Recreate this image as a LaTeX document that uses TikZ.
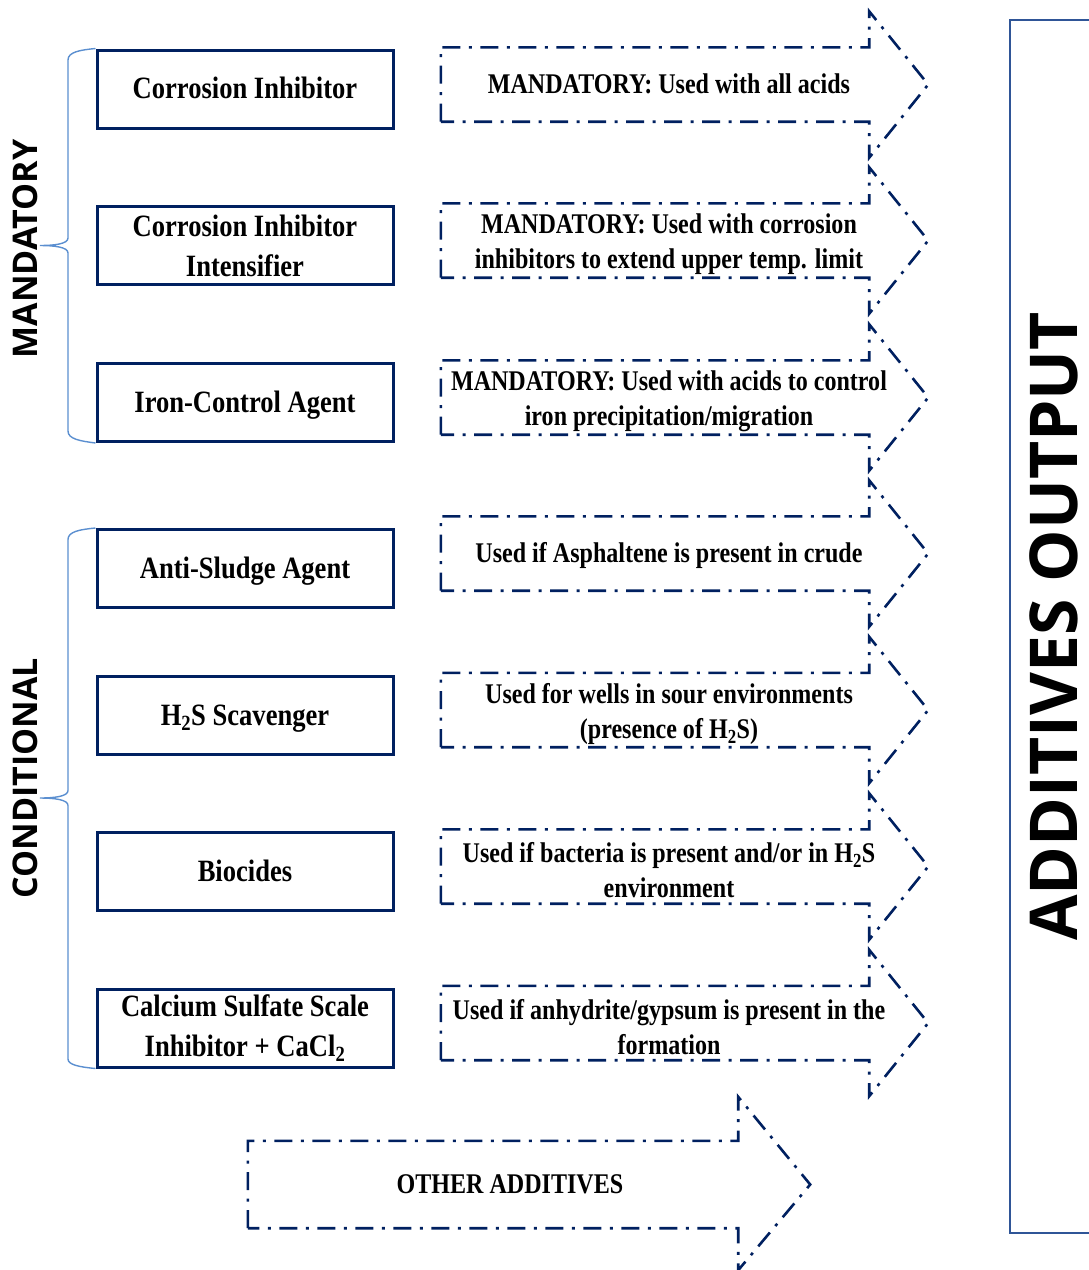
\documentclass[tikz,border=0pt]{standalone}
\usepackage{tikz}
\usepackage{fontspec}
\setmainfont{Liberation Serif}
\newfontfamily\boxserif[FakeStretch=0.857]{Liberation Serif}
\newfontfamily\narrowserif[FakeStretch=0.844]{Liberation Serif}
\newfontfamily\sidesans{Open Sans}

\definecolor{navy}{RGB}{0,32,96}
\definecolor{bracecol}{RGB}{91,143,208}
\definecolor{outcol}{RGB}{47,85,151}

\begin{document}
\begin{tikzpicture}[x=1pt, y=-1pt,
    box/.style={draw=navy, line width=3pt, minimum width=296pt, minimum height=78pt, inner sep=0pt, align=center, font=\boxserif\bfseries\fontsize{31}{40}\selectfont},
    boxline/.style={text height=21pt, text depth=2pt},
    body/.style={minimum width=428pt, minimum height=74pt, inner sep=0pt},
    note/.style={inner sep=0pt, align=center, font=\narrowserif\bfseries\fontsize{28.5}{35}\selectfont},
    noteline/.style={text height=19pt, text depth=2pt},
    twolines/.style={yshift=-4pt},
    dashdot/.style={draw=navy, line width=2.6pt, dash pattern=on 18pt off 8.5pt on 3pt off 8.5pt},
    brace/.style={draw=bracecol, line width=1.4pt},
    side/.style={rotate=90, inner sep=0pt, font=\sidesans\bfseries\fontsize{34}{40}\selectfont}]
    \useasboundingbox (0,0) rectangle (1089,1270);

    % additive boxes
    \node[box, boxline] (ci) at (245,89) {Corrosion Inhibitor};
    \node[box] (cii) at (245,245.5) {Corrosion Inhibitor\\Intensifier};
    \node[box, boxline] (ica) at (245,402.5) {Iron-Control Agent};
    \node[box, boxline] (asa) at (245,568.5) {Anti-Sludge Agent};
    \node[box, boxline] (hss) at (245,715.5) {H\textsubscript{2}S Scavenger};
    \node[box, boxline] (bio) at (245,871.5) {Biocides};
    \node[box] (css) at (245,1028) {Calcium Sulfate Scale\\Inhibitor + CaCl\textsubscript{2}};

    % group labels
    \node[side] (mand) at (25,249) {MANDATORY};
    \node[side] (cond) at (25,778) {CONDITIONAL};
    \coordinate (mtip) at (40,245.5);
    \coordinate (ctip) at (40,798);
    \draw[brace] (ci.north west) .. controls (80,50) and (68,52) .. (68,60) -- (68,238) .. controls (68,244) and (54,245.5) .. (mtip) .. controls (54,245.5) and (68,247) .. (68,253) -- (68,431) .. controls (68,439) and (80,441) .. (ica.south west);
    \draw[brace] (asa.north west) .. controls (80,529.5) and (68,531.5) .. (68,539.5) -- (68,790.5) .. controls (68,796.5) and (54,798) .. (ctip) .. controls (54,798) and (68,799.5) .. (68,805.5) -- (68,1059) .. controls (68,1065) and (80,1067) .. (css.south west);

    % usage arrows
    \node[body] (b1) at (655,84.5) {};
    \node[body] (b2) at (655,240.5) {};
    \node[body] (b3) at (655,397.5) {};
    \node[body] (b4) at (655,553.5) {};
    \node[body] (b5) at (655,710) {};
    \node[body] (b6) at (655,866.5) {};
    \node[body] (b7) at (655,1023) {};
    \draw[dashdot] (b1.south west) -- (b1.north west) -- (b1.north east) -- ([yshift=36pt]b1.north east) -- ([xshift=59pt]b1.east) -- ([yshift=-36pt]b1.south east) -- (b1.south east) -- cycle;
    \draw[dashdot] (b2.south west) -- (b2.north west) -- (b2.north east) -- ([yshift=36pt]b2.north east) -- ([xshift=59pt]b2.east) -- ([yshift=-36pt]b2.south east) -- (b2.south east) -- cycle;
    \draw[dashdot] (b3.south west) -- (b3.north west) -- (b3.north east) -- ([yshift=36pt]b3.north east) -- ([xshift=59pt]b3.east) -- ([yshift=-36pt]b3.south east) -- (b3.south east) -- cycle;
    \draw[dashdot] (b4.south west) -- (b4.north west) -- (b4.north east) -- ([yshift=36pt]b4.north east) -- ([xshift=59pt]b4.east) -- ([yshift=-36pt]b4.south east) -- (b4.south east) -- cycle;
    \draw[dashdot] (b5.south west) -- (b5.north west) -- (b5.north east) -- ([yshift=36pt]b5.north east) -- ([xshift=59pt]b5.east) -- ([yshift=-36pt]b5.south east) -- (b5.south east) -- cycle;
    \draw[dashdot] (b6.south west) -- (b6.north west) -- (b6.north east) -- ([yshift=36pt]b6.north east) -- ([xshift=59pt]b6.east) -- ([yshift=-36pt]b6.south east) -- (b6.south east) -- cycle;
    \draw[dashdot] (b7.south west) -- (b7.north west) -- (b7.north east) -- ([yshift=36pt]b7.north east) -- ([xshift=59pt]b7.east) -- ([yshift=-36pt]b7.south east) -- (b7.south east) -- cycle;

    \node[note, noteline] (u1) at ([xshift=14pt]b1.center) {MANDATORY: Used with all acids};
    \node[note, twolines] (u2) at ([xshift=14pt]b2.center) {MANDATORY: Used with corrosion\\inhibitors to extend upper temp. limit};
    \node[note, twolines] (u3) at ([xshift=14pt]b3.center) {MANDATORY: Used with acids to control\\iron precipitation/migration};
    \node[note, noteline] (u4) at ([xshift=14pt]b4.center) {Used if Asphaltene is present in crude};
    \node[note, twolines] (u5) at ([xshift=14pt]b5.center) {Used for wells in sour environments\\(presence of H\textsubscript{2}S)};
    \node[note, twolines] (u6) at ([xshift=14pt]b6.center) {Used if bacteria is present and/or in H\textsubscript{2}S\\environment};
    \node[note, twolines] (u7) at ([xshift=14pt]b7.center) {Used if anhydrite/gypsum is present in the\\formation};

    % other additives
    \node[body, minimum width=490pt, minimum height=87pt] (ob) at (493,1184.5) {};
    \draw[dashdot] (ob.south west) -- (ob.north west) -- (ob.north east) -- ([yshift=44pt]ob.north east) -- ([xshift=72pt]ob.east) -- ([yshift=-42pt]ob.south east) -- (ob.south east) -- cycle;
    \node[note, noteline] (oa) at ([xshift=17pt]ob.center) {OTHER ADDITIVES};

    % output
    \node[draw=outcol, line width=2pt, minimum width=88pt, minimum height=1213pt] (outbox) at (1054,626.5) {};
    \node[rotate=90, inner sep=0pt, font=\sidesans\bfseries\fontsize{66}{70}\selectfont] (out) at (outbox.center) {ADDITIVES OUTPUT};
\end{tikzpicture}
\end{document}
